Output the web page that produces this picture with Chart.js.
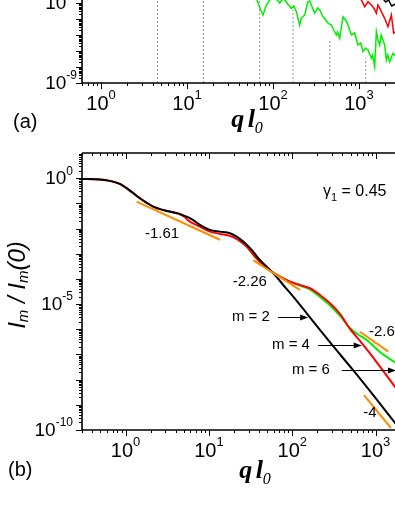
<!DOCTYPE html>
<html>
<head>
<meta charset="utf-8">
<script src="https://cdn.jsdelivr.net/npm/chart.js@4.4.1/dist/chart.umd.min.js"></script>
<style>
  html, body { margin: 0; padding: 0; background: #fff; overflow: hidden; width: 395px; height: 511px; }
  canvas { position: absolute; left: 0; }
  #panel-a { top: -13px; }
  #panel-b { top: 140px; }
</style>
</head>
<body>
<canvas id="panel-a" width="420" height="153"></canvas>
<canvas id="panel-b" width="420" height="371"></canvas>
<script>
// panel (a): noisy spectra (only the lower part is in view)
const aGreenQ = [61.3, 66.4, 72.0, 76.6, 83.8, 91.6, 104.7, 119.7, 133, 148, 164, 174, 187, 204, 214, 234, 253, 267, 279, 305, 331, 349, 381, 410, 436, 478, 508, 546, 565, 597, 652, 700, 745, 816, 891, 973, 1047, 1114, 1197, 1273, 1394, 1443, 1523, 1593, 1663, 1741, 1812, 1901, 1990, 2083, 2157, 2275, 2369, 2486, 2673, 2974];
const aGreenI = [3.6e-4, 1.16e-4, 3.65e-5, 1.78e-5, 7.5e-5, 1.54e-4, 2.37e-4, 1.0e-4, 2.05e-4, 8.7e-5, 4.66e-5, 6.5e-5, 2.87e-5, 4.2e-6, 1.15e-5, 1.78e-5, 1.16e-4, 1.33e-4, 7.5e-5, 2.37e-5, 4.9e-5, 3.65e-5, 1.39e-5, 8.7e-6, 5.4e-6, 4.2e-6, 2.05e-6, 1.0e-6, 1.54e-6, 6.2e-7, 1.39e-5, 8.7e-6, 4.2e-6, 1.0e-6, 1.33e-6, 2.37e-7, 3.16e-7, 9.1e-8, 1.54e-7, 1.15e-7, 3.5e-8, 5.6e-8, 1.05e-8, 1.6e-6, 4.9e-7, 2.37e-7, 1.0e-6, 4.9e-7, 2.37e-7, 2.74e-8, 5.6e-8, 2.15e-8, 3.65e-8, 7.2e-8, 4.9e-8, 1.15e-7];
const aRedQ = [966, 1066, 1164, 1273, 1394, 1483, 1593, 1663, 1821, 1990, 2174, 2382, 2530, 2818];
const aRedI = [3.16e-4, 1.54e-4, 5.9e-5, 1.2e-4, 7.5e-5, 4.9e-5, 2.3e-5, 7.5e-5, 2.87e-5, 1.1e-5, 3.3e-6, 1.78e-5, 1.33e-6, 2.05e-6];
const aBlackQ = [1837, 2042, 2213, 2399, 2673];
const aBlackI = [2.37e-4, 1.16e-4, 1.54e-4, 6.5e-5, 8.7e-5];
const aMarkQ = [4.53, 15.5, 70, 171, 457, 1197];
const aMarkTop = [1e-3, 1e-3, 1e-3, 3.6e-5, 4.9e-7, 3.5e-8];

// panel (b): normalised intensity for m = 2, 4, 6
const bBlackQ = [0.3, 0.491, 0.648, 0.854, 1.028, 1.224, 1.485, 1.80, 2.145, 2.653, 3.40, 4.25, 5.40, 6.43, 7.80, 10.28, 13.55, 17.86, 21.5, 25.8, 32.6, 40.9, 51.5, 62.0, 78.0, 102.8, 149, 215, 308, 535, 1040, 1710, 1963];
const bBlackI = [0.938, 0.896, 0.781, 0.594, 0.401, 0.261, 0.160, 0.1044, 0.0744, 0.0576, 0.0471, 0.040, 0.0298, 0.0220, 0.01396, 8.84e-3, 7.55e-3, 6.53e-3, 4.79e-3, 3.03e-3, 1.42e-3, 5.67e-4, 2.64e-4, 1.43e-4, 5.74e-5, 1.97e-5, 4.32e-6, 9.4e-7, 2.17e-7, 2.42e-8, 1.56e-9, 1.9e-10, 1.1e-10];
const bRedQ = [0.3, 0.491, 0.648, 0.854, 1.028, 1.224, 1.485, 1.80, 2.145, 2.653, 3.40, 4.25, 5.0, 5.91, 7.80, 10.28, 13.55, 17.86, 22.5, 28.4, 35.6, 44.9, 56.6, 71.2, 93.8, 123.7, 163, 215, 284, 374, 493, 650, 857, 1130, 1710, 1963];
const bRedI = [0.938, 0.896, 0.781, 0.594, 0.401, 0.261, 0.160, 0.1044, 0.0744, 0.0576, 0.0471, 0.0395, 0.030, 0.01888, 0.01194, 7.55e-3, 6.12e-3, 5.10e-3, 3.54e-3, 1.92e-3, 7.67e-4, 3.57e-4, 1.95e-4, 1.23e-4, 7.8e-5, 5.75e-5, 4.26e-5, 2.31e-5, 1.08e-5, 4.07e-6, 1.03e-6, 3.44e-7, 1.11e-7, 3.27e-8, 5.2e-9, 2.95e-9];
const bGreenQ = [22.5, 28.4, 35.6, 44.9, 56.6, 71.2, 93.8, 123.7, 163, 215, 284, 374, 493, 615, 782, 1130, 1710, 1963];
const bGreenI = [3.54e-3, 1.92e-3, 7.67e-4, 3.57e-4, 1.95e-4, 1.23e-4, 7.8e-5, 5.5e-5, 3.82e-5, 1.92e-5, 8.8e-6, 3.38e-6, 1.13e-6, 6.2e-7, 3.77e-7, 1.26e-7, 4.8e-8, 3.65e-8];
// power-law guide lines (two end points each)
const fit161Q = [1.355, 13.55], fit161I = [0.117, 3.6e-3];
const fit226Q = [34.2, 123.7], fit226I = [5.42e-4, 3.65e-5];
const fit26Q = [650, 1420], fit26I = [8.0e-7, 1.29e-7];
const fit4Q = [726, 1530], fit4I = [2.45e-9, 1.2e-10];

// annotations placed in data coordinates
const bNotes = [['-1.61', 1.705, 6.12e-3], ['-2.26', 19.3, 7.8e-5], ['m = 2', 18.9, 3.09e-6], ['m = 4', 57.1, 2.38e-7], ['m = 6', 99.1, 2.53e-8], ['-2.6', 833, 7.8e-7], ['-4', 712, 4.6e-10]];
const bArrows = [[67.5, 155, 3.09e-6], [204, 681, 2.38e-7], [392, 1758, 2.42e-8]];

const SANS = '"Liberation Sans", Arial, sans-serif';
const SERIF = '"Liberation Serif", "Times New Roman", serif';

function pts(qs, is) {
  return qs.map((q, i) => ({ x: q, y: is[i] }));
}

function line(data, color, width, extra) {
  return Object.assign({ data, borderColor: color, borderWidth: width, pointRadius: 0, showLine: true, fill: false }, extra || {});
}

function pow10(ctx, exp, x, y, size, align) {
  const bf = size + 'px ' + SANS, ef = Math.round(size * 0.65) + 'px ' + SANS;
  ctx.font = bf; const wb = ctx.measureText('10').width;
  ctx.font = ef; const we = ctx.measureText(exp).width;
  const left = align === 'center' ? x - (wb + we) / 2 : x - wb - we;
  ctx.textAlign = 'left'; ctx.textBaseline = 'middle';
  ctx.font = bf; ctx.fillText('10', left, y);
  ctx.font = ef; ctx.fillText(exp, left + wb, y - size * 0.42);
}

function rich(ctx, parts, x, y) {
  let w = 0;
  parts.forEach(p => { ctx.font = p[1]; w += ctx.measureText(p[0]).width; });
  let cx = x - w / 2;
  ctx.textAlign = 'left';
  parts.forEach(p => { ctx.font = p[1]; ctx.fillText(p[0], cx, y + (p[2] || 0)); cx += ctx.measureText(p[0]).width; });
}

function drawFrame(chart, spec) {
  const { ctx, chartArea: a, scales: { x, y } } = chart;
  ctx.save();
  ctx.strokeStyle = '#000'; ctx.fillStyle = '#000';
  ctx.lineWidth = 1.6;
  ctx.beginPath();
  ctx.moveTo(a.left, a.top); ctx.lineTo(a.left, a.bottom); ctx.lineTo(a.right, a.bottom);
  if (spec.top) { ctx.moveTo(a.left, a.top); ctx.lineTo(a.right, a.top); }
  ctx.stroke();
  ctx.lineWidth = 1;
  ctx.beginPath();
  for (let e = spec.xDec[0]; e <= spec.xDec[1]; e++) {
    for (let k = 1; k <= 9; k++) {
      const v = k * Math.pow(10, e);
      if (v < x.min * 0.999 || v > x.max) continue;
      const px = Math.round(x.getPixelForValue(v)) + 0.5, len = k === 1 ? 6 : 3;
      ctx.moveTo(px, a.bottom); ctx.lineTo(px, a.bottom + len);
      if (spec.top) { ctx.moveTo(px, a.top); ctx.lineTo(px, a.top + len); }
    }
  }
  for (let e = spec.yDec[0]; e <= spec.yDec[1]; e++) {
    for (let k = 1; k <= 9; k++) {
      const v = k * Math.pow(10, e);
      if (v < y.min * 0.999 || v > y.max * 1.001) continue;
      const py = Math.round(y.getPixelForValue(v)) + 0.5, len = k === 1 ? 6 : 3;
      ctx.moveTo(a.left, py); ctx.lineTo(a.left - len, py);
    }
  }
  ctx.stroke();
  spec.xLab.forEach(e => pow10(ctx, String(e), x.getPixelForValue(Math.pow(10, e)), a.bottom + spec.xGap, 20, 'center'));
  spec.yLab.forEach(e => pow10(ctx, String(e), a.left - spec.yGap, y.getPixelForValue(Math.pow(10, e)) + 1, 19, 'right'));
  ctx.restore();
}

function qTitle(ctx, x, y) {
  ctx.fillStyle = '#000';
  ctx.textBaseline = 'alphabetic';
  rich(ctx, [['q', 'bold italic 26px ' + SERIF], [' ', 'bold italic 14px ' + SERIF], ['l', 'bold italic 26px ' + SERIF], ['0', 'italic 16px ' + SERIF, 6]], x, y);
}

const common = {
  responsive: false,
  animation: false,
  events: [],
  plugins: { legend: { display: false }, tooltip: { enabled: false } }
};

new Chart(document.getElementById('panel-a'), {
  type: 'scatter',
  data: {
    datasets: [
      line(pts(aBlackQ, aBlackI), '#000000', 1.5),
      line(pts(aRedQ, aRedI), '#ff0000', 1.5),
      line(pts(aGreenQ, aGreenI), '#00ee00', 1.5)
    ].concat(aMarkQ.map((q, i) => line([{ x: q, y: 1e-9 }, { x: q, y: aMarkTop[i] }], '#909090', 1, { borderDash: [2, 2] })))
  },
  options: Object.assign({}, common, {
    layout: { padding: { left: 82, top: 0, right: 20, bottom: 57 } },
    scales: {
      x: { type: 'logarithmic', min: 0.6, max: 3000, display: false },
      y: { type: 'logarithmic', min: 1e-9, max: 1e-3, display: false }
    }
  }),
  plugins: [{
    id: 'frameA',
    afterDraw(chart) {
      drawFrame(chart, { xDec: [-1, 3], yDec: [-9, -4], xLab: [0, 1, 2, 3], yLab: [-9, -4], xGap: 21, yGap: 5, top: false });
      const ctx = chart.ctx;
      ctx.save();
      ctx.fillStyle = '#000';
      ctx.font = '20px ' + SANS; ctx.textAlign = 'left'; ctx.textBaseline = 'middle';
      ctx.fillText('(a)', 13, 135);
      qTitle(ctx, 247, 140);
      ctx.restore();
    }
  }]
});

new Chart(document.getElementById('panel-b'), {
  type: 'scatter',
  data: {
    datasets: [
      line(pts(fit161Q, fit161I), '#ff8c00', 2),
      line(pts(fit226Q, fit226I), '#ff8c00', 2),
      line(pts(fit26Q, fit26I), '#ff8c00', 2),
      line(pts(fit4Q, fit4I), '#ff8c00', 2),
      line(pts(bBlackQ, bBlackI), '#000000', 2, { tension: 0.3 }),
      line(pts(bRedQ, bRedI), '#ff0000', 2, { tension: 0.3 }),
      line(pts(bGreenQ, bGreenI), '#00ee00', 2, { tension: 0.3 })
    ]
  },
  options: Object.assign({}, common, {
    layout: { padding: { left: 82, top: 13, right: 20, bottom: 81 } },
    scales: {
      x: { type: 'logarithmic', min: 0.3, max: 1963, display: false },
      y: { type: 'logarithmic', min: 1e-10, max: 10, display: false }
    }
  }),
  plugins: [{
    id: 'frameB',
    afterDraw(chart) {
      drawFrame(chart, { xDec: [-1, 3], yDec: [-10, 0], xLab: [0, 1, 2, 3], yLab: [0, -5, -10], xGap: 21, yGap: 9, top: true });
      const { ctx, scales: { x, y } } = chart;
      ctx.save();
      ctx.fillStyle = '#000'; ctx.strokeStyle = '#000';
      ctx.font = '15px ' + SANS; ctx.textAlign = 'left'; ctx.textBaseline = 'middle';
      bNotes.forEach(n => ctx.fillText(n[0], x.getPixelForValue(n[1]), y.getPixelForValue(n[2])));
      ctx.lineWidth = 1;
      bArrows.forEach(r => {
        const x1 = x.getPixelForValue(r[0]), x2 = x.getPixelForValue(r[1]), py = Math.round(y.getPixelForValue(r[2])) + 0.5;
        ctx.beginPath(); ctx.moveTo(x1, py); ctx.lineTo(x2 - 6, py); ctx.stroke();
        ctx.beginPath(); ctx.moveTo(x2, py); ctx.lineTo(x2 - 8, py - 3); ctx.lineTo(x2 - 8, py + 3); ctx.closePath(); ctx.fill();
      });
      // gamma label
      ctx.textBaseline = 'middle';
      const gx = x.getPixelForValue(234), gy = y.getPixelForValue(0.286);
      ctx.font = '16px ' + SANS; ctx.fillText('\u03b3', gx, gy);
      let w = ctx.measureText('\u03b3').width;
      ctx.font = '11px ' + SANS; ctx.fillText('1', gx + w, gy + 6);
      w += ctx.measureText('1').width;
      ctx.font = '16px ' + SANS; ctx.fillText(' = 0.45', gx + w, gy);
      // panel tag and axis titles
      ctx.font = '20px ' + SANS;
      ctx.fillText('(b)', 8, 330);
      qTitle(ctx, 255, 338);
      ctx.translate(18, 145);
      ctx.rotate(-Math.PI / 2);
      ctx.textBaseline = 'middle';
      const it = 'italic 24px ' + SANS, sub = 'italic 15px ' + SANS;
      rich(ctx, [['I', it], ['m', sub, 6], [' / ', it], ['I', it], ['m', sub, 6], ['(0)', it]], 0, 0);
      ctx.restore();
    }
  }]
});
</script>
</body>
</html>
